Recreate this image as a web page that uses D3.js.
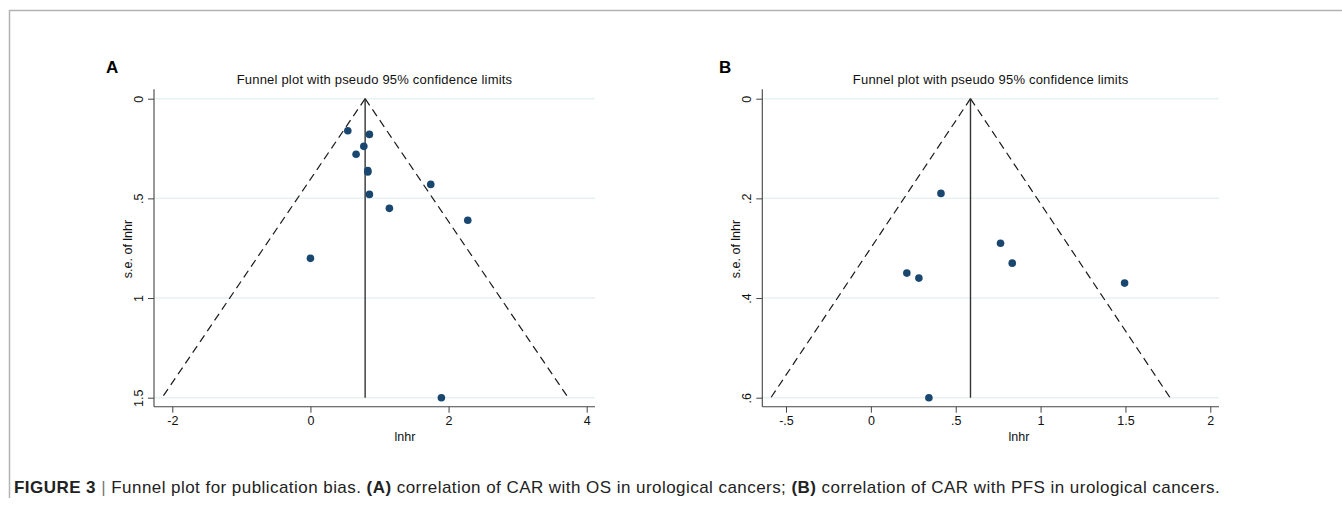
<!DOCTYPE html>
<html>
<head>
<meta charset="utf-8">
<script src="https://cdn.jsdelivr.net/npm/d3@7"></script>
<style>
  body { margin: 0; background: #fff; }
  svg { display: block; font-family: "Liberation Sans", Arial, Helvetica, sans-serif; }
</style>
</head>
<body>
<div id="fig"></div>
<script>
// panel A: OS
const lnhrA = [0.541, 0.854, 0.773, 0.661, 0.831, 0.831, 1.742, 0.854, 1.143, 2.278, 0.0, 1.896];
const seA   = [0.161, 0.179, 0.239, 0.279, 0.361, 0.368, 0.430, 0.480, 0.550, 0.610, 0.801, 1.50];
const thetaA = 0.792;
const xTicksA = [-2, 0, 2, 4];
const yTicksA = [0, 0.5, 1, 1.5];

// panel B: PFS
const lnhrB = [0.413, 0.764, 0.833, 0.212, 0.283, 1.495, 0.342];
const seB   = [0.190, 0.290, 0.330, 0.350, 0.360, 0.370, 0.600];
const thetaB = 0.587;
const xTicksB = [-0.5, 0, 0.5, 1, 1.5, 2];
const yTicksB = [0, 0.2, 0.4, 0.6];

const W = 1342, H = 506;
const svg = d3.select("#fig").append("svg")
  .attr("width", W)
  .attr("height", H);

// figure frame (top + left rule)
svg.append("path")
  .attr("d", "M9.5,498 V10.5 H1342")
  .attr("fill", "none")
  .attr("stroke", "#b3b3b3")
  .attr("stroke-width", 1.5);

// stata style numbers: .5 instead of 0.5
const fmt = d => d === 0 ? "0" : String(d).replace(/^(-?)0\./, "$1.");

function drawFunnel(o) {
  const g = svg.append("g");

  const x = d3.scaleLinear().domain(o.xDom).range(o.xRange);
  const y = d3.scaleLinear().domain([0, o.seMax]).range([98.7, 397.7]);

  // light grid lines at y ticks
  g.selectAll(".grid").data(o.yTicks).enter().append("line")
    .attr("x1", o.left).attr("x2", o.right)
    .attr("y1", d => y(d)).attr("y2", d => y(d))
    .attr("stroke", "#e8f1f2")
    .attr("stroke-width", 1.5);

  // pseudo 95% limits
  const lims = [
    [[o.theta, 0], [o.theta - 1.96 * o.seMax, o.seMax]],
    [[o.theta, 0], [o.theta + 1.96 * o.seMax, o.seMax]]
  ];
  const line = d3.line().x(d => x(d[0])).y(d => y(d[1]));
  g.selectAll(".lim").data(lims).enter().append("path")
    .attr("d", line)
    .attr("fill", "none")
    .attr("stroke", "#1a1a1a")
    .attr("stroke-width", 1.2)
    .attr("stroke-dasharray", "8,5");

  // pooled estimate
  g.append("path")
    .attr("d", line([[o.theta, 0], [o.theta, o.seMax]]))
    .attr("stroke", "#333")
    .attr("stroke-width", 1.4);

  // studies
  g.selectAll(".pt").data(o.xs.map((v, i) => [v, o.ys[i]])).enter().append("circle")
    .attr("cx", d => x(d[0]))
    .attr("cy", d => y(d[1]))
    .attr("r", 3.8)
    .attr("fill", "#1a476f");

  // x axis
  const xa = g.append("g")
    .attr("transform", "translate(0,406.7)")
    .call(d3.axisBottom(x).tickValues(o.xTicks).tickFormat(fmt).tickSize(6).tickSizeOuter(0));
  xa.select(".domain").remove();
  xa.append("line").attr("x1", o.left).attr("x2", o.right)
    .attr("stroke", "#444").attr("stroke-width", 1.1);
  xa.selectAll(".tick line").attr("stroke", "#444");
  xa.selectAll("text").attr("fill", "#111").attr("font-size", 12.5).attr("y", 9).attr("dy", "0.71em");

  // y axis, labels turned like stata does
  const ya = g.append("g")
    .attr("transform", `translate(${o.left},0)`)
    .call(d3.axisLeft(y).tickValues(o.yTicks).tickFormat(fmt).tickSize(6).tickSizeOuter(0));
  ya.select(".domain").remove();
  ya.append("line").attr("y1", 89.3).attr("y2", 406.7)
    .attr("stroke", "#444").attr("stroke-width", 1.1);
  ya.selectAll(".tick line").attr("stroke", "#444");
  ya.selectAll("text")
    .attr("transform", "rotate(-90)")
    .attr("x", 0).attr("y", -11).attr("dy", 0)
    .attr("text-anchor", "middle")
    .attr("fill", "#111").attr("font-size", 12.5);

  // titles
  svg.append("text")
    .attr("x", (o.left + o.right) / 2).attr("y", 84)
    .attr("text-anchor", "middle").attr("font-size", 13).attr("letter-spacing", 0.2).attr("fill", "#111")
    .text("Funnel plot with pseudo 95% confidence limits");
  svg.append("text")
    .attr("x", o.xTitleX).attr("y", 441)
    .attr("text-anchor", "middle").attr("font-size", 12.5).attr("fill", "#111")
    .text("lnhr");
  svg.append("text")
    .attr("transform", `translate(${o.left - 22},249) rotate(-90)`)
    .attr("text-anchor", "middle").attr("font-size", 12.5).attr("fill", "#111")
    .text("s.e. of lnhr");
  svg.append("text")
    .attr("x", o.tag[0]).attr("y", o.tag[1])
    .attr("font-size", 17).attr("font-weight", "bold").attr("fill", "#000")
    .text(o.label);
}

drawFunnel({
  label: "A", tag: [106, 73],
  xs: lnhrA, ys: seA, theta: thetaA, seMax: 1.5,
  xTicks: xTicksA, yTicks: yTicksA,
  xDom: [-2, 4], xRange: [172.3, 586.7],
  left: 154, right: 595, xTitleX: 405
});

drawFunnel({
  label: "B", tag: [719, 73],
  xs: lnhrB, ys: seB, theta: thetaB, seMax: 0.6,
  xTicks: xTicksB, yTicks: yTicksB,
  xDom: [-0.5, 2], xRange: [786, 1210.3],
  left: 762.3, right: 1219, xTitleX: 1019
});

// caption
const cap = svg.append("text")
  .attr("x", 14).attr("y", 493)
  .attr("font-size", 17).attr("letter-spacing", 0.45).attr("fill", "#222");
cap.append("tspan").attr("font-weight", "bold").text("FIGURE 3");
cap.append("tspan").attr("fill", "#777").text(" | ");
cap.append("tspan").text("Funnel plot for publication bias. ");
cap.append("tspan").attr("font-weight", "bold").text("(A)");
cap.append("tspan").text(" correlation of CAR with OS in urological cancers; ");
cap.append("tspan").attr("font-weight", "bold").text("(B)");
cap.append("tspan").text(" correlation of CAR with PFS in urological cancers.");
</script>
</body>
</html>
